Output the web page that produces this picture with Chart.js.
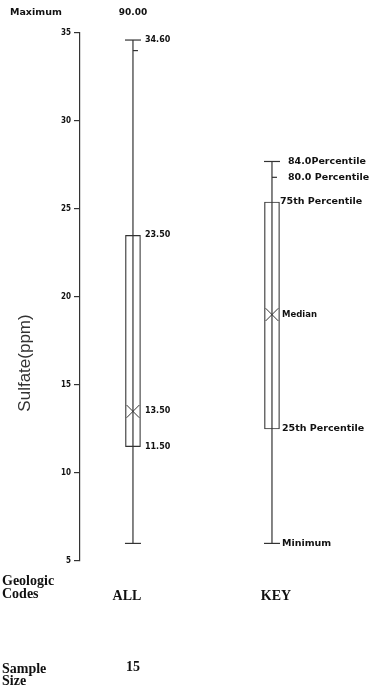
<!DOCTYPE html>
<html>
<head>
<meta charset="utf-8">
<script src="https://cdn.jsdelivr.net/npm/chart.js@4/dist/chart.umd.min.js"></script>
<style>
  html, body { margin: 0; padding: 0; background: #fff; }
  #wrap { width: 369px; height: 688px; position: relative; }
</style>
</head>
<body>
<div id="wrap"><canvas id="chart"></canvas></div>
<script>
// box plot data
const categories = ['ALL', 'KEY'];
const catX = [1, 2];
const minimum = [6.0, 6.0];
const q1 = [11.5, 12.5];
const median = [13.5, 19.0];
const q3 = [23.5, 25.4];
const p80 = [34.0, 26.8];
const p84 = [34.6, 27.7];
const yTicks = [5, 10, 15, 20, 25, 30, 35];

// text beside the ALL box and the KEY box
const allLabels = ['34.60', '23.50', '13.50', '11.50'];
const keyLabels = ['84.0Percentile', '80.0 Percentile', '75th Percentile', 'Median', '25th Percentile', 'Minimum'];
const maximumLabel = ['90.00', ''];
const sampleSize = ['15', ''];

const LINE = '#333';
const INK = '#111';
const SANS = "'DejaVu Sans', sans-serif";
const COND = "'DejaVu Sans Condensed', 'DejaVu Sans', sans-serif";
const SERIF = "'Liberation Serif', serif";

const whiskers = catX.map((x, i) => ({
  type: 'line',
  data: [{ x: x, y: minimum[i] }, { x: x, y: p84[i] }],
  borderColor: LINE,
  borderWidth: 1.2,
  pointRadius: 0,
  order: 1
}));

const textPlugin = {
  id: 'boxText',
  afterDraw(chart) {
    const ctx = chart.ctx;
    const xs = chart.scales.x, ys = chart.scales.y;
    ctx.save();
    ctx.fillStyle = INK;
    ctx.textBaseline = 'middle';

    // Maximum row
    ctx.font = 'bold 9.5px ' + SANS;
    ctx.textAlign = 'left';
    ctx.fillText('Maximum', 10, 13);
    ctx.font = 'bold 9px ' + SANS;
    ctx.textAlign = 'center';
    maximumLabel.forEach((t, i) => { if (t) ctx.fillText(t, xs.getPixelForValue(catX[i]), 13); });

    // values next to ALL
    const ax = xs.getPixelForValue(catX[0]) + 12;
    ctx.font = 'bold 8px ' + SANS;
    ctx.textAlign = 'left';
    [p84[0], q3[0], median[0], q1[0]].forEach((v, j) => {
      ctx.fillText(allLabels[j], ax, ys.getPixelForValue(v));
    });

    // key labels
    const kx = xs.getPixelForValue(catX[1]);
    const keyVals = [p84[1], p80[1], q3[1], median[1], q1[1], minimum[1]];
    const keyOff = [16, 16, 8, 10, 10, 10];
    const keyFont = ['bold 9.5px ', 'bold 9.5px ', 'bold 9.5px ', 'bold 8.5px ', 'bold 9.5px ', 'bold 9.5px '];
    keyLabels.forEach((t, j) => {
      ctx.font = keyFont[j] + SANS;
      ctx.fillText(t, kx + keyOff[j], ys.getPixelForValue(keyVals[j]));
    });

    // y axis title
    ctx.save();
    ctx.translate(25, 363);
    ctx.rotate(-Math.PI / 2);
    ctx.font = '17px ' + "'Liberation Sans', sans-serif";
    ctx.fillStyle = '#333';
    ctx.textAlign = 'center';
    ctx.fillText('Sulfate(ppm)', 0, 0);
    ctx.restore();

    // bottom rows
    ctx.textBaseline = 'alphabetic';
    ctx.font = 'bold 14px ' + SERIF;
    ctx.textAlign = 'left';
    ctx.fillText('Geologic', 2, 585);
    ctx.fillText('Codes', 2, 598);
    ctx.fillText('Sample', 2, 673);
    ctx.fillText('Size', 2, 685);
    ctx.textAlign = 'center';
    categories.forEach((c, i) => ctx.fillText(c, xs.getPixelForValue(catX[i]) - (i === 0 ? 6 : -4), 600));
    sampleSize.forEach((s, i) => { if (s) ctx.fillText(s, xs.getPixelForValue(catX[i]), 671); });
    ctx.restore();
  }
};

new Chart(document.getElementById('chart'), {
  data: {
    datasets: [
      ...whiskers,
      {
        type: 'bar',
        data: catX.map((x, i) => ({ x: x, y: [q1[i], q3[i]] })),
        backgroundColor: '#fff',
        borderColor: LINE,
        borderWidth: 1.2,
        borderSkipped: false,
        barThickness: 15,
        order: 2
      },
      {
        type: 'scatter',
        data: catX.flatMap((x, i) => [{ x: x, y: minimum[i] }, { x: x, y: p84[i] }]),
        pointStyle: 'line',
        pointRadius: 8,
        borderColor: LINE,
        pointBorderWidth: 1.2,
        order: 0
      },
      {
        type: 'scatter',
        data: catX.map((x, i) => ({ x: x, y: p80[i] })),
        pointStyle: 'dash',
        pointRadius: 5,
        borderColor: LINE,
        pointBorderWidth: 1.2,
        order: 0
      },
      {
        type: 'scatter',
        data: catX.map((x, i) => ({ x: x, y: median[i] })),
        pointStyle: 'crossRot',
        pointRadius: 9,
        borderColor: LINE,
        pointBorderWidth: 1,
        order: 0
      }
    ]
  },
  options: {
    responsive: true,
    maintainAspectRatio: false,
    animation: false,
    events: [],
    layout: { padding: { top: 33, bottom: 127, left: 0, right: 10 } },
    plugins: { legend: { display: false }, tooltip: { enabled: false } },
    scales: {
      x: { type: 'linear', min: 0.619, max: 2.626, offset: false, display: false },
      y: {
        type: 'linear',
        min: 5,
        max: 35,
        afterFit: s => { s.width = 80; },
        afterBuildTicks: s => { s.ticks = yTicks.map(v => ({ value: v })); },
        ticks: { color: INK, padding: 3, font: { family: COND, weight: 'bold', size: 8 } },
        grid: { drawOnChartArea: false, drawTicks: true, tickLength: 6, color: LINE, lineWidth: 1.2 },
        border: { color: LINE, width: 1.2 }
      }
    }
  },
  plugins: [textPlugin]
});
</script>
</body>
</html>
